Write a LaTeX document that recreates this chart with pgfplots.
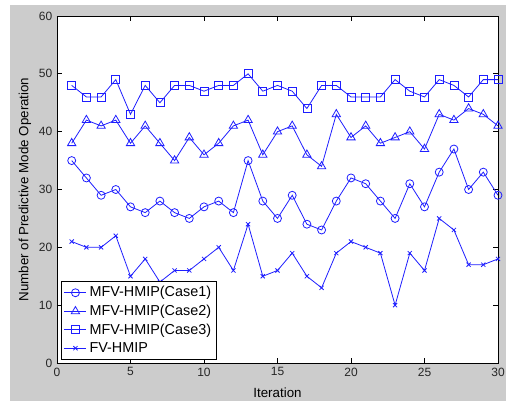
\documentclass[border=0pt]{standalone}
\usepackage{pgfplots}
\pgfplotsset{compat=1.18}
\usepackage{fontspec}
\setmainfont{Liberation Sans}
\definecolor{figgray}{RGB}{204,204,204}
\definecolor{lblue}{RGB}{30,30,255}
\definecolor{txt}{RGB}{38,38,38}
\begin{document}
\begin{tikzpicture}
% figure background (1px = 0.75pt)
\fill[white] (-42.75pt,-28.5pt) rectangle (336.75pt,272.25pt);
\fill[figgray] (-35.25pt,-28.5pt) rectangle (336.75pt,268.5pt);
\useasboundingbox (-42.75pt,-28.5pt) rectangle (336.75pt,272.25pt);
\begin{axis}[
    at={(0pt,0pt)}, anchor=south west,
    scale only axis,
    width=330.75pt, height=260.25pt,
    xmin=0, xmax=30, ymin=0, ymax=60,
    xtick={0,5,...,30}, ytick={0,10,...,60},
    tick align=inside,
    major tick length=4pt,
    axis background/.style={fill=white},
    axis line style={black, line width=0.6pt},
    every tick/.style={black, line width=0.6pt},
    tick label style={font=\fontsize{9}{10}\selectfont, text=txt},
    /pgf/number format/assume math mode=true,
    xlabel={Iteration},
    ylabel={Number of Predictive Mode Operation},
    label style={font=\fontsize{9.8}{11}\selectfont, text=txt},
    every axis x label/.style={at={(axis description cs:0.5,-0.0865)}, anchor=center},
    every axis y label/.style={at={(axis description cs:-0.0726,0.5)}, rotate=90, anchor=center},
    legend style={at={(axis description cs:0.009,0.009)}, anchor=south west,
        font=\fontsize{10.8}{12}\selectfont, draw=black, line width=0.6pt,
        row sep=0.6pt, inner sep=2pt},
    legend cell align=left,
    legend image code/.code={\draw[mark repeat=2,mark phase=2]
        plot coordinates {(0cm,0cm) (0.29cm,0cm) (0.58cm,0cm)};},
]
\addplot[lblue, line width=0.6pt, mark=o, mark size=3pt, mark options={solid}] coordinates {
(1,35) (2,32) (3,29) (4,30) (5,27) (6,26) (7,28) (8,26) (9,25) (10,27)
(11,28) (12,26) (13,35) (14,28) (15,25) (16,29) (17,24) (18,23) (19,28) (20,32)
(21,31) (22,28) (23,25) (24,31) (25,27) (26,33) (27,37) (28,30) (29,33) (30,29)};
\addlegendentry{MFV-HMIP(Case1)}
\addplot[lblue, line width=0.6pt, mark=triangle, mark size=3.6pt, mark options={solid}] coordinates {
(1,38) (2,42) (3,41) (4,42) (5,38) (6,41) (7,38) (8,35) (9,39) (10,36)
(11,38) (12,41) (13,42) (14,36) (15,40) (16,41) (17,36) (18,34) (19,43) (20,39)
(21,41) (22,38) (23,39) (24,40) (25,37) (26,43) (27,42) (28,44) (29,43) (30,41)};
\addlegendentry{MFV-HMIP(Case2)}
\addplot[lblue, line width=0.6pt, mark=square, mark size=3pt, mark options={solid}] coordinates {
(1,48) (2,46) (3,46) (4,49) (5,43) (6,48) (7,45) (8,48) (9,48) (10,47)
(11,48) (12,48) (13,50) (14,47) (15,48) (16,47) (17,44) (18,48) (19,48) (20,46)
(21,46) (22,46) (23,49) (24,47) (25,46) (26,49) (27,48) (28,46) (29,49) (30,49)};
\addlegendentry{MFV-HMIP(Case3)}
\addplot[lblue, line width=0.6pt, mark=x, mark size=2.2pt, mark options={solid}] coordinates {
(1,21) (2,20) (3,20) (4,22) (5,15) (6,18) (7,14) (8,16) (9,16) (10,18)
(11,20) (12,16) (13,24) (14,15) (15,16) (16,19) (17,15) (18,13) (19,19) (20,21)
(21,20) (22,19) (23,10) (24,19) (25,16) (26,25) (27,23) (28,17) (29,17) (30,18)};
\addlegendentry{FV-HMIP}
\end{axis}
\end{tikzpicture}
\end{document}
